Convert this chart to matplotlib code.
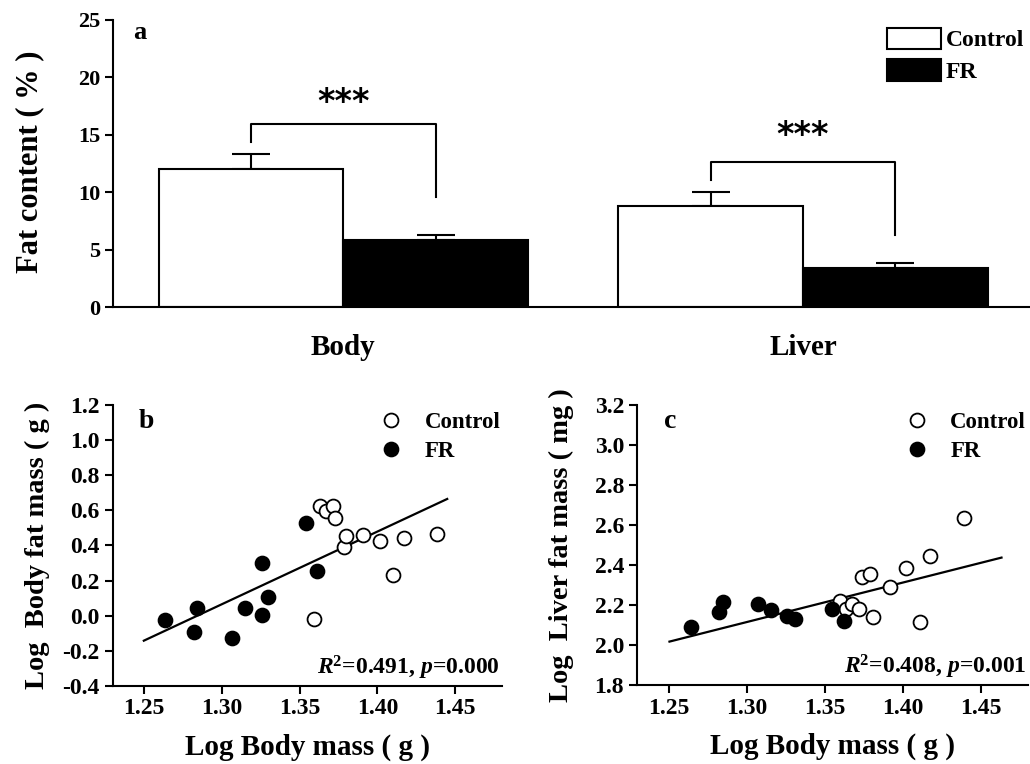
import matplotlib
matplotlib.use("Agg")
import matplotlib.pyplot as plt
from matplotlib.lines import Line2D
from matplotlib.patches import Patch

plt.rcParams['font.family'] = ['Liberation Serif', 'DejaVu Serif']
plt.rcParams['font.weight'] = 'bold'
plt.rcParams['axes.linewidth'] = 1.5
plt.rcParams['mathtext.fontset'] = 'custom'
plt.rcParams['mathtext.rm'] = 'Liberation Serif:bold'
plt.rcParams['mathtext.bf'] = 'Liberation Serif:bold'
plt.rcParams['mathtext.it'] = 'Liberation Serif:italic:bold'
plt.rcParams['mathtext.bfit'] = 'Liberation Serif:italic:bold'

# panel a: fat content (%)
tissues = ["Body", "Liver"]
control_mean = [12.0, 8.8]
control_err = [1.3, 1.2]
fr_mean = [5.8, 3.4]
fr_err = [0.45, 0.4]
# bracket: (top, left drop end, right drop end, star height)
brackets = [(15.9, 14.35, 9.55, 17.8), (12.65, 11.1, 6.3, 14.9)]

# panel b: log body fat mass vs log body mass
b_fr_x = [1.2636, 1.2820, 1.2842, 1.3065, 1.3150, 1.3258, 1.3258, 1.3299, 1.3539, 1.3615]
b_fr_y = [-0.025, -0.095, 0.042, -0.125, 0.042, 0.298, 0.004, 0.108, 0.530, 0.256]
b_ctl_x = [1.3595, 1.3632, 1.3671, 1.3712, 1.3729, 1.3784, 1.3801, 1.3910, 1.4015, 1.4102, 1.4169, 1.4383]
b_ctl_y = [-0.021, 0.623, 0.596, 0.623, 0.558, 0.393, 0.456, 0.459, 0.427, 0.232, 0.440, 0.463]
b_fit_x = [1.25, 1.4448]
b_fit_y = [-0.142, 0.665]

# panel c: log liver fat mass vs log body mass
c_fr_x = [1.2642, 1.2825, 1.2851, 1.3070, 1.3154, 1.3260, 1.3307, 1.3542, 1.3619]
c_fr_y = [2.088, 2.167, 2.213, 2.205, 2.175, 2.147, 2.128, 2.182, 2.120]
c_ctl_x = [1.3598, 1.3635, 1.3675, 1.3718, 1.3735, 1.3791, 1.3810, 1.3916, 1.4019, 1.4105, 1.4174, 1.4387]
c_ctl_y = [2.222, 2.180, 2.205, 2.180, 2.342, 2.353, 2.142, 2.288, 2.383, 2.117, 2.445, 2.633]
c_fit_x = [1.2506, 1.4629]
c_fit_y = [2.017, 2.437]

fig = plt.figure(figsize=(10.3, 7.64), dpi=100)

# ---- panel a ----
ax = fig.add_axes([0.110, 0.598, 0.890, 0.376])
centers = [1.0, 3.49]
ctl_x = [c - 0.5 for c in centers]
fr_x = [c + 0.5 for c in centers]
ax.bar(ctl_x, control_mean, width=1.0, color='white', edgecolor='black', linewidth=1.5, zorder=2)
ax.bar(fr_x, fr_mean, width=1.0, color='black', edgecolor='black', linewidth=1.5, zorder=2)
ax.errorbar(ctl_x, [m + e / 2 for m, e in zip(control_mean, control_err)],
            yerr=[[e / 2 for e in control_err], [e / 2 for e in control_err]],
            fmt='none', ecolor='black', elinewidth=1.5, capsize=14, capthick=1.5, zorder=1)
ax.errorbar(fr_x, [m + e / 2 for m, e in zip(fr_mean, fr_err)],
            yerr=[[e / 2 for e in fr_err], [e / 2 for e in fr_err]],
            fmt='none', ecolor='black', elinewidth=1.5, capsize=14, capthick=1.5, zorder=1)
for x0, x1, (top, l_end, r_end, star) in zip(ctl_x, fr_x, brackets):
    ax.plot([x0, x0, x1, x1], [l_end, top, top, r_end], color='black', lw=1.5)
    ax.text((x0 + x1) / 2, star, "***", ha='center', va='center', fontsize=24,
            fontweight='bold', family='DejaVu Sans')
ax.set_xlim(-0.246, 4.72)
ax.set_ylim(0, 25)
ax.set_yticks([0, 5, 10, 15, 20, 25])
ax.set_xticks(centers)
ax.set_xticklabels(tissues, fontsize=21, fontweight='bold')
ax.tick_params(axis='x', length=0, pad=19)
ax.tick_params(axis='y', direction='out', length=6, width=1.5, labelsize=16)
for s in ['top', 'right']:
    ax.spines[s].set_visible(False)
ax.set_ylabel("Fat content ( % )", fontsize=22, fontweight='bold')
ax.yaxis.set_label_coords(0.043, 0.788, transform=fig.transFigure)
ax.text(0.129, 0.957, "a", transform=fig.transFigure, fontsize=19, fontweight='bold', va='center')
handles = [Patch(facecolor='white', edgecolor='black', linewidth=1.5, label='Control'),
           Patch(facecolor='black', edgecolor='black', linewidth=1.5, label='FR')]
ax.legend(handles=handles, loc='upper left', bbox_to_anchor=(0.861, 0.964),
          bbox_transform=fig.transFigure, frameon=False, fontsize=17,
          handlelength=2.3, handleheight=1.0, handletextpad=0.2, labelspacing=0.35,
          borderaxespad=0, borderpad=0)


def scatter_panel(rect, fr_x, fr_y, ctl_x, ctl_y, fit_x, fit_y, ylim, yticks, ylabel, letter, stat):
    ax = fig.add_axes(rect)
    ax.plot(fit_x, fit_y, color='black', lw=1.6, zorder=1)
    ax.scatter(ctl_x, ctl_y, s=100, facecolor='white', edgecolor='black', linewidth=1.3, zorder=2)
    ax.scatter(fr_x, fr_y, s=100, facecolor='black', edgecolor='black', linewidth=1.3, zorder=3)
    ax.set_xlim(1.23, 1.48)
    ax.set_ylim(*ylim)
    ax.set_xticks([1.25, 1.30, 1.35, 1.40, 1.45])
    ax.set_xticklabels(["1.25", "1.30", "1.35", "1.40", "1.45"])
    ax.set_yticks(yticks)
    ax.set_yticklabels(["%.1f" % v for v in yticks])
    ax.tick_params(direction='out', length=6, width=1.5, labelsize=17)
    ax.tick_params(axis='x', pad=3)
    for s in ['top', 'right']:
        ax.spines[s].set_visible(False)
    ax.set_xlabel("Log Body mass ( g )", fontsize=21, fontweight='bold', labelpad=10)
    ax.set_ylabel(ylabel, fontsize=20.5, fontweight='bold')
    ax.text(0.068, 0.94, letter, transform=ax.transAxes, fontsize=20, fontweight='bold', va='center')
    ax.text(0.995, 0.065, stat, transform=ax.transAxes, fontsize=17, fontweight='bold',
            ha='right', va='center')
    handles = [Line2D([], [], marker='o', ls='none', markersize=10, markerfacecolor='white',
                      markeredgecolor='black', markeredgewidth=1.3, label='Control'),
               Line2D([], [], marker='o', ls='none', markersize=10, markerfacecolor='black',
                      markeredgecolor='black', markeredgewidth=1.3, label='FR')]
    ax.legend(handles=handles, loc='upper left', bbox_to_anchor=(0.657, 0.975), frameon=False,
              fontsize=16.5, handletextpad=0.45, labelspacing=0.33, borderaxespad=0, borderpad=0)
    return ax


bt = [-0.4, -0.2, 0.0, 0.2, 0.4, 0.6, 0.8, 1.0, 1.2]
axb = scatter_panel([0.1094, 0.1021, 0.378, 0.3678], b_fr_x, b_fr_y, b_ctl_x, b_ctl_y,
                    b_fit_x, b_fit_y, (-0.4, 1.2), bt, "Log  Body fat mass ( g )", "b",
                    r"$\mathbfit{R}^{2}$=0.491, $\mathbfit{p}$=0.000")
axb.yaxis.set_label_coords(0.049, 0.286, transform=fig.transFigure)

ct = [1.8, 2.0, 2.2, 2.4, 2.6, 2.8, 3.0, 3.2]
axc = scatter_panel([0.6187, 0.1034, 0.3796, 0.3665], c_fr_x, c_fr_y, c_ctl_x, c_ctl_y,
                    c_fit_x, c_fit_y, (1.8, 3.2), ct, "Log  Liver fat mass ( mg )", "c",
                    r"$\mathbfit{R}^{2}$=0.408, $\mathbfit{p}$=0.001")
axc.yaxis.set_label_coords(0.557, 0.286, transform=fig.transFigure)

fig.savefig("out.png", dpi=100)
